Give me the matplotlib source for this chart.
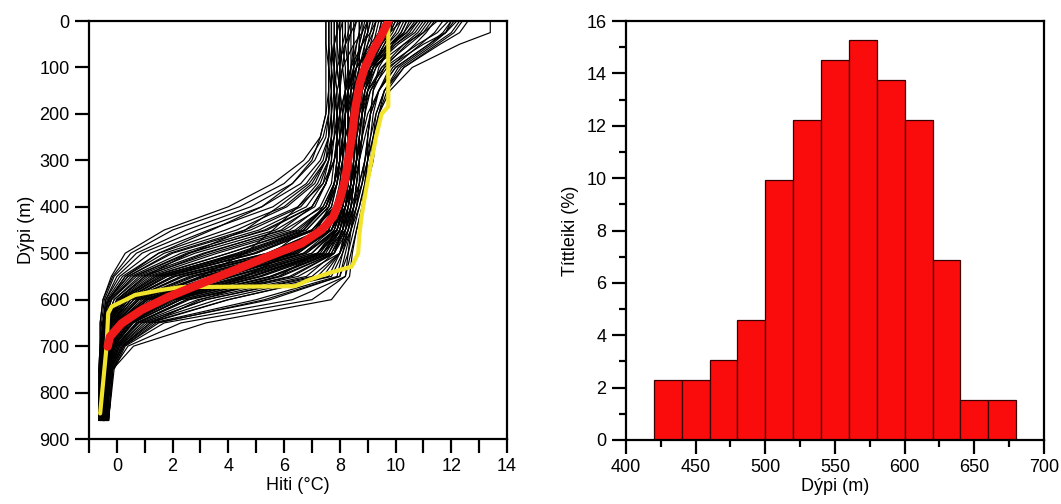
import matplotlib
matplotlib.use("Agg")
import matplotlib.pyplot as plt
from matplotlib.ticker import FixedLocator, MultipleLocator

plt.rcParams['font.family'] = ['Liberation Sans', 'DejaVu Sans']

# ---------------- data: left panel ----------------
profile_depths = [0, 25, 50, 100, 150, 200, 250, 300, 350, 400, 450, 500, 550, 600, 650, 700, 750, 860]

profile_temps = [
    [7.5, 7.5, 7.5, 7.5, 7.5, 7.5, 7.3, 6.7, 5.6, 4.0, 1.7, 0.3, -0.2, -0.5, -0.6, -0.6, -0.65, -0.65],
    [7.6, 7.6, 7.6, 7.6, 7.6, 7.6, 7.5, 7.1, 6.3, 4.8, 2.5, 0.7, -0.1, -0.45, -0.55, -0.6, -0.6, -0.6],
    [8.0, 7.9, 7.8, 7.7, 7.7, 7.7, 7.6, 7.4, 6.8, 5.6, 3.3, 1.2, 0.1, -0.4, -0.5, -0.55, -0.6, -0.6],
    [9.0, 8.8, 8.5, 8.1, 7.9, 7.8, 7.7, 7.5, 7.1, 6.1, 4.3, 1.7, 0.3, -0.3, -0.5, -0.55, -0.6, -0.6],
    [7.6, 7.6, 7.6, 7.6, 7.7, 7.7, 7.7, 7.6, 7.3, 6.6, 4.8, 2.0, 0.4, -0.3, -0.5, -0.55, -0.6, -0.6],
    [10.2, 9.8, 9.3, 8.6, 8.3, 8.1, 8.0, 7.8, 7.5, 7.0, 5.4, 2.5, 0.6, -0.2, -0.45, -0.5, -0.55, -0.55],
    [7.8, 7.8, 7.8, 7.8, 7.8, 7.8, 7.8, 7.7, 7.5, 7.1, 5.7, 2.8, 0.7, -0.2, -0.45, -0.5, -0.55, -0.6],
    [11.5, 11.0, 10.3, 9.2, 8.7, 8.4, 8.2, 8.0, 7.8, 7.4, 6.0, 3.1, 0.8, -0.1, -0.4, -0.5, -0.5, -0.55],
    [8.4, 8.3, 8.2, 8.1, 8.0, 7.9, 7.9, 7.8, 7.7, 7.3, 6.2, 3.4, 0.9, -0.1, -0.4, -0.5, -0.5, -0.55],
    [9.6, 9.4, 9.1, 8.6, 8.3, 8.2, 8.1, 8.0, 7.8, 7.5, 6.5, 4.0, 1.3, 0.1, -0.35, -0.45, -0.5, -0.5],
    [7.7, 7.7, 7.7, 7.8, 7.8, 7.9, 7.9, 7.9, 7.8, 7.5, 6.7, 4.3, 1.5, 0.2, -0.3, -0.45, -0.5, -0.55],
    [12.2, 11.8, 11.0, 9.7, 9.1, 8.8, 8.6, 8.4, 8.2, 7.9, 7.0, 4.5, 1.4, 0.1, -0.3, -0.45, -0.5, -0.5],
    [8.8, 8.7, 8.6, 8.4, 8.2, 8.1, 8.1, 8.0, 7.9, 7.6, 6.8, 4.6, 1.6, 0.2, -0.3, -0.45, -0.5, -0.5],
    [10.6, 10.3, 9.8, 9.0, 8.6, 8.4, 8.3, 8.2, 8.1, 7.8, 7.1, 5.0, 1.8, 0.3, -0.25, -0.4, -0.45, -0.5],
    [8.1, 8.0, 8.0, 8.0, 8.0, 8.0, 8.0, 8.0, 7.9, 7.7, 7.0, 4.9, 1.7, 0.3, -0.3, -0.45, -0.5, -0.55],
    [9.3, 9.2, 9.0, 8.7, 8.5, 8.3, 8.3, 8.2, 8.1, 7.9, 7.3, 5.4, 2.0, 0.4, -0.2, -0.4, -0.45, -0.5],
    [11.0, 10.7, 10.1, 9.2, 8.8, 8.6, 8.5, 8.4, 8.2, 8.0, 7.4, 5.5, 2.1, 0.4, -0.2, -0.4, -0.45, -0.5],
    [7.9, 7.9, 7.9, 7.9, 8.0, 8.0, 8.1, 8.1, 8.0, 7.8, 7.3, 5.7, 2.3, 0.5, -0.2, -0.4, -0.45, -0.5],
    [9.9, 9.7, 9.4, 8.9, 8.6, 8.5, 8.4, 8.3, 8.2, 8.0, 7.5, 5.8, 2.4, 0.5, -0.15, -0.4, -0.45, -0.5],
    [8.6, 8.5, 8.5, 8.4, 8.3, 8.2, 8.2, 8.2, 8.1, 7.9, 7.5, 6.0, 2.7, 0.6, -0.1, -0.35, -0.45, -0.5],
    [12.0, 11.7, 11.2, 10.0, 9.4, 9.1, 8.9, 8.7, 8.5, 8.2, 7.7, 6.2, 2.8, 0.7, -0.1, -0.35, -0.4, -0.45],
    [9.0, 8.9, 8.8, 8.6, 8.4, 8.3, 8.3, 8.2, 8.2, 8.0, 7.6, 6.3, 3.1, 0.8, -0.05, -0.35, -0.4, -0.5],
    [10.3, 10.1, 9.7, 9.1, 8.8, 8.6, 8.5, 8.4, 8.3, 8.1, 7.7, 6.4, 3.2, 0.8, -0.05, -0.3, -0.4, -0.45],
    [7.8, 7.8, 7.8, 7.9, 8.0, 8.1, 8.1, 8.1, 8.1, 7.9, 7.6, 6.5, 3.5, 1.0, 0.0, -0.3, -0.4, -0.5],
    [11.3, 11.0, 10.5, 9.5, 9.0, 8.8, 8.7, 8.6, 8.4, 8.2, 7.9, 6.7, 3.6, 1.0, 0.05, -0.3, -0.4, -0.45],
    [9.5, 9.4, 9.2, 8.8, 8.6, 8.5, 8.4, 8.4, 8.3, 8.1, 7.8, 6.8, 3.9, 1.2, 0.1, -0.3, -0.4, -0.45],
    [8.3, 8.3, 8.3, 8.3, 8.3, 8.3, 8.3, 8.2, 8.2, 8.0, 7.7, 6.7, 3.8, 1.1, 0.05, -0.3, -0.4, -0.5],
    [10.0, 9.8, 9.5, 9.0, 8.7, 8.6, 8.5, 8.4, 8.3, 8.2, 7.9, 7.0, 4.1, 1.3, 0.15, -0.25, -0.35, -0.45],
    [12.4, 12.1, 11.5, 10.3, 9.6, 9.3, 9.1, 8.9, 8.7, 8.4, 8.1, 7.2, 4.2, 1.3, 0.2, -0.25, -0.35, -0.4],
    [8.9, 8.8, 8.7, 8.6, 8.5, 8.4, 8.4, 8.3, 8.3, 8.1, 7.9, 7.2, 4.5, 1.5, 0.2, -0.25, -0.35, -0.45],
    [13.4, 13.4, 12.3, 10.6, 9.8, 9.4, 9.2, 9.0, 8.8, 8.5, 8.2, 7.4, 4.6, 1.5, 0.25, -0.2, -0.35, -0.4],
    [9.7, 9.6, 9.3, 8.9, 8.7, 8.6, 8.5, 8.5, 8.4, 8.2, 8.0, 7.4, 4.9, 1.7, 0.3, -0.2, -0.35, -0.45],
    [8.0, 8.0, 8.0, 8.1, 8.2, 8.2, 8.2, 8.2, 8.2, 8.1, 7.9, 7.3, 4.8, 1.6, 0.25, -0.25, -0.4, -0.5],
    [10.8, 10.5, 10.0, 9.3, 8.9, 8.8, 8.7, 8.6, 8.5, 8.3, 8.1, 7.6, 5.2, 1.9, 0.4, -0.15, -0.3, -0.4],
    [9.2, 9.1, 9.0, 8.8, 8.6, 8.5, 8.5, 8.4, 8.4, 8.2, 8.0, 7.5, 5.1, 1.8, 0.35, -0.2, -0.35, -0.45],
    [11.7, 11.4, 10.9, 9.9, 9.4, 9.1, 9.0, 8.9, 8.7, 8.5, 8.2, 7.7, 5.6, 2.1, 0.5, -0.1, -0.3, -0.4],
    [8.5, 8.5, 8.5, 8.5, 8.5, 8.4, 8.4, 8.4, 8.3, 8.2, 8.0, 7.6, 5.5, 2.0, 0.45, -0.15, -0.35, -0.45],
    [10.1, 9.9, 9.6, 9.1, 8.8, 8.7, 8.6, 8.6, 8.5, 8.4, 8.2, 7.8, 5.9, 2.3, 0.55, -0.1, -0.3, -0.4],
    [9.4, 9.3, 9.2, 8.9, 8.7, 8.6, 8.6, 8.5, 8.5, 8.3, 8.1, 7.8, 6.3, 2.5, 0.7, -0.05, -0.3, -0.4],
    [12.3, 12.0, 11.4, 10.2, 9.6, 9.3, 9.2, 9.1, 8.9, 8.7, 8.4, 8.0, 6.5, 2.6, 0.75, 0.0, -0.25, -0.35],
    [8.2, 8.2, 8.2, 8.3, 8.3, 8.3, 8.3, 8.3, 8.3, 8.2, 8.1, 7.8, 6.8, 2.9, 0.8, 0.0, -0.3, -0.45],
    [10.5, 10.3, 9.9, 9.3, 9.0, 8.9, 8.8, 8.7, 8.6, 8.5, 8.3, 8.0, 7.2, 3.2, 0.9, 0.05, -0.25, -0.35],
    [9.0, 9.0, 8.9, 8.8, 8.7, 8.7, 8.6, 8.6, 8.5, 8.4, 8.2, 8.0, 7.4, 3.6, 1.0, 0.1, -0.25, -0.4],
    [11.2, 10.9, 10.4, 9.6, 9.2, 9.1, 9.0, 8.9, 8.8, 8.6, 8.4, 8.1, 7.7, 4.0, 1.2, 0.15, -0.2, -0.35],
    [8.7, 8.7, 8.7, 8.7, 8.6, 8.6, 8.6, 8.6, 8.5, 8.4, 8.3, 8.1, 7.9, 5.0, 1.3, 0.2, -0.2, -0.4],
    [9.8, 9.7, 9.5, 9.1, 8.9, 8.8, 8.8, 8.7, 8.7, 8.6, 8.4, 8.2, 8.0, 5.5, 1.4, 0.25, -0.15, -0.3],
    [12.0, 11.8, 11.3, 10.1, 9.6, 9.4, 9.3, 9.2, 9.0, 8.8, 8.6, 8.4, 8.2, 6.3, 1.7, 0.3, -0.1, -0.3],
    [9.3, 9.2, 9.1, 8.9, 8.8, 8.8, 8.7, 8.7, 8.6, 8.5, 8.4, 8.3, 8.2, 7.0, 2.3, 0.4, -0.15, -0.3],
    [10.4, 10.2, 9.9, 9.4, 9.2, 9.1, 9.0, 9.0, 8.9, 8.8, 8.6, 8.45, 8.35, 7.7, 3.2, 0.6, -0.15, -0.3],
    [7.7, 7.7, 7.7, 7.7, 7.7, 7.6, 7.4, 6.9, 6.0, 4.4, 2.0, 0.5, -0.15, -0.5, -0.6, -0.6, -0.65, -0.65],
    [8.6, 8.4, 8.2, 7.9, 7.8, 7.7, 7.6, 7.3, 6.6, 5.2, 2.9, 0.9, 0.0, -0.4, -0.5, -0.55, -0.6, -0.6],
    [7.6, 7.6, 7.6, 7.6, 7.6, 7.6, 7.6, 7.5, 7.0, 6.0, 3.9, 1.5, 0.2, -0.35, -0.5, -0.55, -0.6, -0.65],
    [10.8, 10.4, 9.8, 8.9, 8.4, 8.2, 8.0, 7.8, 7.4, 6.5, 4.6, 1.9, 0.4, -0.3, -0.5, -0.55, -0.55, -0.6],
    [7.9, 7.9, 7.8, 7.8, 7.8, 7.8, 7.7, 7.6, 7.4, 6.8, 5.1, 2.3, 0.5, -0.25, -0.45, -0.5, -0.55, -0.6],
    [9.3, 9.1, 8.8, 8.4, 8.2, 8.0, 7.9, 7.8, 7.5, 7.0, 5.3, 2.6, 0.6, -0.2, -0.45, -0.5, -0.55, -0.55],
    [7.5, 7.5, 7.5, 7.6, 7.7, 7.7, 7.7, 7.7, 7.5, 7.0, 5.9, 3.2, 1.0, 0.0, -0.4, -0.5, -0.55, -0.6],
    [10.9, 10.6, 10.0, 9.1, 8.6, 8.4, 8.2, 8.1, 7.9, 7.5, 6.4, 3.6, 1.1, 0.0, -0.35, -0.45, -0.5, -0.5],
    [8.2, 8.2, 8.1, 8.0, 8.0, 7.9, 7.9, 7.9, 7.8, 7.5, 6.6, 4.0, 1.2, 0.05, -0.35, -0.45, -0.5, -0.55],
    [9.1, 9.0, 8.8, 8.5, 8.3, 8.2, 8.1, 8.0, 7.9, 7.6, 6.8, 4.4, 1.4, 0.15, -0.3, -0.45, -0.5, -0.5],
    [11.9, 11.5, 10.8, 9.6, 9.0, 8.7, 8.5, 8.3, 8.1, 7.8, 7.0, 4.7, 1.6, 0.2, -0.3, -0.45, -0.5, -0.5],
    [7.7, 7.7, 7.7, 7.8, 7.9, 7.9, 8.0, 8.0, 7.9, 7.7, 7.1, 5.0, 1.8, 0.3, -0.3, -0.45, -0.5, -0.55],
    [9.6, 9.5, 9.3, 8.8, 8.6, 8.4, 8.3, 8.3, 8.2, 7.9, 7.3, 5.4, 2.0, 0.35, -0.25, -0.4, -0.45, -0.5],
    [10.7, 10.4, 9.9, 9.1, 8.7, 8.5, 8.4, 8.3, 8.2, 8.0, 7.4, 5.7, 2.3, 0.5, -0.2, -0.4, -0.45, -0.5],
    [8.4, 8.4, 8.3, 8.3, 8.2, 8.2, 8.2, 8.1, 8.1, 7.9, 7.5, 6.0, 2.6, 0.6, -0.15, -0.35, -0.45, -0.5],
    [12.1, 11.8, 11.2, 10.0, 9.4, 9.0, 8.8, 8.6, 8.4, 8.2, 7.7, 6.3, 3.0, 0.75, -0.05, -0.35, -0.4, -0.45],
    [9.1, 9.0, 8.9, 8.7, 8.5, 8.4, 8.4, 8.3, 8.2, 8.0, 7.7, 6.5, 3.5, 1.0, 0.0, -0.3, -0.4, -0.5],
    [7.9, 7.9, 7.9, 8.0, 8.0, 8.1, 8.1, 8.1, 8.0, 7.9, 7.6, 6.4, 3.4, 0.9, 0.0, -0.3, -0.4, -0.5],
    [10.4, 10.2, 9.8, 9.2, 8.9, 8.7, 8.6, 8.5, 8.4, 8.2, 7.9, 6.8, 3.8, 1.1, 0.05, -0.3, -0.4, -0.45],
    [8.7, 8.7, 8.6, 8.5, 8.4, 8.4, 8.3, 8.3, 8.2, 8.1, 7.8, 7.0, 4.1, 1.3, 0.15, -0.25, -0.4, -0.45],
    [11.1, 10.8, 10.3, 9.5, 9.1, 8.9, 8.8, 8.6, 8.5, 8.3, 8.0, 7.2, 4.4, 1.4, 0.2, -0.25, -0.35, -0.4],
    [9.5, 9.4, 9.2, 8.9, 8.7, 8.6, 8.5, 8.5, 8.4, 8.2, 8.0, 7.4, 4.8, 1.6, 0.3, -0.2, -0.35, -0.45],
    [8.1, 8.1, 8.1, 8.2, 8.2, 8.3, 8.3, 8.3, 8.2, 8.1, 7.9, 7.4, 5.1, 1.8, 0.35, -0.2, -0.35, -0.5],
    [10.2, 10.0, 9.7, 9.2, 8.9, 8.8, 8.7, 8.6, 8.5, 8.4, 8.1, 7.7, 5.5, 2.0, 0.45, -0.15, -0.3, -0.4],
    [12.6, 12.3, 11.6, 10.3, 9.7, 9.4, 9.2, 9.0, 8.8, 8.6, 8.3, 7.8, 5.8, 2.3, 0.55, -0.1, -0.3, -0.35],
    [8.8, 8.8, 8.7, 8.7, 8.6, 8.6, 8.5, 8.5, 8.4, 8.3, 8.1, 7.8, 6.2, 2.5, 0.7, -0.05, -0.3, -0.45],
    [9.9, 9.8, 9.6, 9.2, 9.0, 8.9, 8.8, 8.7, 8.6, 8.5, 8.3, 8.0, 7.0, 3.2, 0.9, 0.05, -0.25, -0.35],
    [8.4, 8.4, 8.4, 8.4, 8.4, 8.4, 8.4, 8.4, 8.4, 8.3, 8.2, 8.0, 7.6, 4.0, 1.1, 0.1, -0.2, -0.4],
    [11.4, 11.1, 10.7, 9.8, 9.4, 9.2, 9.1, 9.0, 8.9, 8.7, 8.5, 8.3, 8.0, 5.3, 1.5, 0.25, -0.15, -0.3],
    [7.6, 7.6, 7.6, 7.7, 7.8, 7.9, 7.9, 7.9, 7.8, 7.6, 7.2, 6.2, 4.6, 2.2, 0.6, -0.1, -0.35, -0.5],
    [9.0, 8.9, 8.8, 8.5, 8.3, 8.2, 8.1, 8.0, 7.8, 7.4, 6.7, 5.6, 3.9, 1.6, 0.3, -0.2, -0.4, -0.5],
    [8.0, 8.0, 8.0, 8.0, 8.0, 7.9, 7.8, 7.6, 7.2, 6.5, 5.6, 4.6, 3.0, 1.1, 0.1, -0.3, -0.45, -0.55],
    [9.8, 9.6, 9.2, 8.6, 8.2, 8.0, 7.8, 7.5, 6.9, 5.8, 4.6, 2.6, 1.0, 0.0, -0.4, -0.5, -0.55, -0.6],
    [7.6, 7.6, 7.6, 7.6, 7.6, 7.5, 7.3, 7.0, 6.3, 5.2, 3.4, 1.5, 0.3, -0.3, -0.5, -0.6, -0.6, -0.65],
    [10.0, 9.8, 9.5, 9.0, 8.8, 8.6, 8.5, 8.4, 8.3, 8.1, 7.8, 7.2, 5.8, 3.0, 1.2, 0.2, -0.2, -0.35],
]

mean_temp = [9.75, 9.5, 9.2, 8.9, 8.72, 8.55, 8.45, 8.3, 8.19, 8.0, 7.77, 7.35, 6.63, 5.43,
             4.24, 3.04, 1.85, 0.89, 0.17, -0.25, -0.33]
mean_depth = [0, 30, 62, 100, 134, 190, 242, 300, 342, 385, 421, 450, 479, 507,
              536, 565, 594, 622, 651, 680, 701]

ref_temp = [9.74, 9.74, 9.5, 9.3, 9.14, 8.95, 8.78, 8.7, 8.66, 8.5, 8.42, 7.59, 6.87, 6.39,
            2.32, 1.6, 0.65, 0.29, -0.19, -0.31, -0.37, -0.6]
ref_depth = [0, 184, 200, 250, 299, 360, 421, 460, 500, 520, 529, 543, 558, 571,
             573, 579, 590, 601, 615, 629, 701, 845]

# ---------------- data: right panel ----------------
bin_edges = [420, 440, 460, 480, 500, 520, 540, 560, 580, 600, 620, 640, 660, 680]
bin_percent = [2.29, 2.29, 3.05, 4.58, 9.92, 12.21, 14.50, 15.27, 13.74, 12.21, 6.87, 1.53, 1.53]

# ---------------- figure ----------------
fig = plt.figure(figsize=(10.61, 5.04), dpi=100)
ax1 = fig.add_axes([89 / 1061, 65 / 504, 418 / 1061, 418 / 504])
ax2 = fig.add_axes([626 / 1061, 64 / 504, 418 / 1061, 419 / 504])

for temps in profile_temps:
    ax1.plot(temps, profile_depths, color='black', lw=0.85, zorder=2)
ax1.plot(ref_temp, ref_depth, color='#f2e32c', lw=3.0, zorder=3,
         solid_capstyle='round', solid_joinstyle='round')
ax1.plot(mean_temp, mean_depth, color='#f01a1a', lw=6.0, zorder=4,
         solid_capstyle='round', solid_joinstyle='round')

ax1.set_xlim(-1, 14)
ax1.set_ylim(900, 0)
ax1.xaxis.set_major_locator(FixedLocator(list(range(0, 15, 2))))
ax1.xaxis.set_minor_locator(FixedLocator(list(range(-1, 15, 2))))
ax1.yaxis.set_major_locator(MultipleLocator(100))
ax1.tick_params(which='both', direction='out', length=10, width=1.6, labelsize=13, pad=4,
                top=False, right=False)
ax1.set_xlabel('Hiti (°C)', fontsize=13, labelpad=1)
ax1.set_ylabel('Dýpi (m)', fontsize=13, labelpad=3)

widths = [bin_edges[i + 1] - bin_edges[i] for i in range(len(bin_percent))]
ax2.bar(bin_edges[:-1], bin_percent, width=widths, align='edge', color='#fa0c0c',
        edgecolor='#3a0000', linewidth=0.9, zorder=2)
ax2.set_xlim(400, 700)
ax2.set_ylim(0, 16)
ax2.xaxis.set_major_locator(MultipleLocator(50))
ax2.xaxis.set_minor_locator(MultipleLocator(25))
ax2.yaxis.set_major_locator(MultipleLocator(2))
ax2.yaxis.set_minor_locator(MultipleLocator(1))
ax2.tick_params(which='major', direction='out', length=10, width=1.6, labelsize=13, pad=4,
                top=False, right=False)
ax2.tick_params(which='minor', direction='out', length=5, width=1.6, top=False, right=False)
ax2.set_xlabel('Dýpi (m)', fontsize=13, labelpad=1)
ax2.set_ylabel('Títtleiki (%)', fontsize=13, labelpad=5)

for ax in (ax1, ax2):
    for sp in ax.spines.values():
        sp.set_linewidth(1.6)

fig.savefig('out.png', dpi=100)
